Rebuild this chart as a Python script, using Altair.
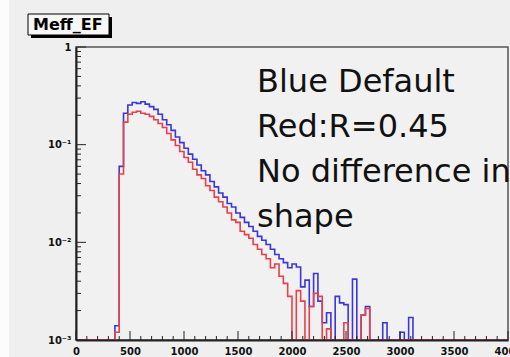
import altair as alt
import pandas as pd

# ---------------- data ----------------
BIN_LOW = list(range(0, 4000, 40))  # 100 bins of width 40, 0..4000

BLUE = [
    0, 0, 0, 0, 0, 0, 0, 0, 0, 0.0014,
    0.06, 0.21, 0.255, 0.27, 0.265, 0.275, 0.26, 0.245, 0.23, 0.205,
    0.18, 0.16, 0.14, 0.12, 0.105, 0.092, 0.08, 0.071, 0.062, 0.054,
    0.049, 0.042, 0.037, 0.032, 0.029, 0.025, 0.023, 0.020, 0.018, 0.016,
    0.0145, 0.013, 0.0115, 0.0105, 0.0095, 0.0085, 0.0075, 0.0068, 0.0062, 0.0055,
    0.006, 0.0056, 0.0035, 0.0041, 0.0022, 0.0048, 0.0025, 0.0015, 0.0019, 0,
    0.0028, 0.0024, 0.0023, 0, 0.0042, 0, 0.0018, 0.0022, 0, 0,
    0, 0.0015, 0, 0, 0, 0.0012, 0, 0.0017, 0, 0,
    0, 0, 0, 0, 0, 0, 0, 0, 0, 0,
    0, 0, 0, 0, 0, 0, 0, 0, 0, 0,
]

RED = [
    0, 0, 0, 0, 0, 0, 0, 0, 0, 0.0012,
    0.05, 0.17, 0.205, 0.215, 0.22, 0.21, 0.205, 0.195, 0.18, 0.165,
    0.15, 0.13, 0.112, 0.098, 0.085, 0.074, 0.066, 0.056, 0.049, 0.045,
    0.038, 0.034, 0.029, 0.026, 0.023, 0.020, 0.017, 0.016, 0.013, 0.012,
    0.011, 0.0095, 0.0085, 0.0075, 0.0068, 0.0055, 0.006, 0.0045, 0.0038, 0.0028,
    0, 0.0032, 0.0025, 0, 0.0022, 0.003, 0.0028, 0, 0.0013, 0,
    0, 0, 0.0015, 0, 0, 0, 0.0018, 0.0021, 0, 0,
    0, 0, 0, 0, 0, 0, 0, 0, 0, 0,
    0, 0, 0, 0, 0, 0, 0, 0, 0, 0,
    0, 0, 0, 0, 0, 0, 0, 0, 0, 0,
]

X_MAX = 4000
X_MAJOR = [0, 500, 1000, 1500, 2000, 2500, 3000, 3500, 4000]
X_MINOR = [v for v in range(0, 4001, 100) if v % 500 != 0]
Y_MAJOR = [1, 0.1, 0.01, 0.001]
Y_MINOR = [k * 10.0 ** e for e in (-3, -2, -1) for k in range(2, 10)]

TITLE = "Meff_EF"
NOTE_LINES = ["Blue Default", "Red:R=0.45", "No difference in", "shape"]

# ---------------- tables ----------------
rows = []
for name, vals in (("Blue", BLUE), ("Red", RED)):
    for x, v in zip(BIN_LOW, vals):
        rows.append({"x": x, "v": v, "s": name})
    rows.append({"x": X_MAX, "v": vals[-1], "s": name})
hist = pd.DataFrame(rows)

xscale = alt.Scale(domain=[0, X_MAX], nice=False, zero=False)
yscale = alt.Scale(type="log", domain=[0.001, 1], nice=False)

AX_X = alt.Axis(values=X_MAJOR, format="d", tickSize=0, ticks=False,
                labelFont="DejaVu Sans", labelFontSize=10,
                labelFontWeight="bold", labelColor="#111",
                labelPadding=6, labelFlush=False,
                labelOverlap=False, labelBound=False,
                domainColor="#222", domainWidth=2,
                grid=False, zindex=1, title="")
AX_Y = alt.Axis(values=Y_MAJOR, tickSize=0, ticks=False,
                labelExpr="datum.value >= 0.5 ? '1' : datum.value >= 0.05 ? '10⁻¹' : datum.value >= 0.005 ? '10⁻²' : '10⁻³'",
                labelFont="DejaVu Sans", labelFontSize=10,
                labelFontWeight="bold", labelColor="#111",
                labelPadding=5, labelFlush=False,
                labelOverlap=False, labelBound=False,
                domainColor="#222", domainWidth=2,
                grid=False, zindex=1, title="")

W, H = 432, 293

def hist_line(name, color):
    return (
        alt.Chart(hist[hist.s == name])
        .transform_calculate(vp="max(datum.v, 0.001)")
        .mark_line(interpolate="step-after", color=color, strokeWidth=1.6, clip=True)
        .encode(
            x=alt.X("x:Q", scale=xscale, axis=AX_X),
            y=alt.Y("vp:Q", scale=yscale, axis=AX_Y),
        )
    )

blue = hist_line("Blue", "#3a36dc")
red = hist_line("Red", "#e8404a")

def xticks(vals, length):
    return (
        alt.Chart(pd.DataFrame({"x": vals}))
        .mark_rule(color="#222", strokeWidth=1)
        .encode(x=alt.X("x:Q", scale=xscale, axis=AX_X),
                y=alt.value(H), y2=alt.value(H - length))
    )

def yticks(vals, length):
    return (
        alt.Chart(pd.DataFrame({"vp": vals}))
        .mark_rule(color="#222", strokeWidth=1)
        .encode(y=alt.Y("vp:Q", scale=yscale, axis=AX_Y),
                x=alt.value(0), x2=alt.value(length))
    )

ticks = [xticks(X_MAJOR, 9), xticks(X_MINOR, 4), yticks(Y_MAJOR, 10), yticks(Y_MINOR, 5)]

notes = []
for i, line in enumerate(NOTE_LINES):
    notes.append(
        alt.Chart(pd.DataFrame({"t": [line]}))
        .mark_text(align="left", baseline="middle", font="DejaVu Sans",
                   fontSize=32, color="#111")
        .encode(text="t:N", x=alt.value(181), y=alt.value(35 + 45 * i))
    )

# title box (ROOT style with shadow)
shadow = alt.Chart(pd.DataFrame({"a": [0]})).mark_rect(color="#000").encode(
    x=alt.value(-45), x2=alt.value(36), y=alt.value(-30), y2=alt.value(-9))
box = alt.Chart(pd.DataFrame({"a": [0]})).mark_rect(
    fill="#f7f7f7", stroke="#000", strokeWidth=1).encode(
    x=alt.value(-48), x2=alt.value(33), y=alt.value(-33), y2=alt.value(-12))
title = alt.Chart(pd.DataFrame({"t": [TITLE]})).mark_text(
    align="left", baseline="middle", font="DejaVu Sans", fontWeight="bold",
    fontSize=16, color="#000").encode(text="t:N", x=alt.value(-43), y=alt.value(-22))

strip = alt.Chart(pd.DataFrame({"a": [0]})).mark_rect(color="#fcfcfc").encode(
    x=alt.value(-76), x2=alt.value(-67), y=alt.value(-47), y2=alt.value(H + 17))

chart = (
    alt.layer(strip, blue, red, *ticks, shadow, box, title, *notes)
    .properties(width=W, height=H,
                autosize=alt.AutoSizeParams(type="none"),
                padding={"left": 76, "top": 47, "right": 2, "bottom": 17},
                background="#efefef")
    .configure_view(stroke="#555", strokeWidth=1.5, fill="#f1f1f1")
)

chart.save("out.html", embed_options={"renderer": "svg", "actions": False})
